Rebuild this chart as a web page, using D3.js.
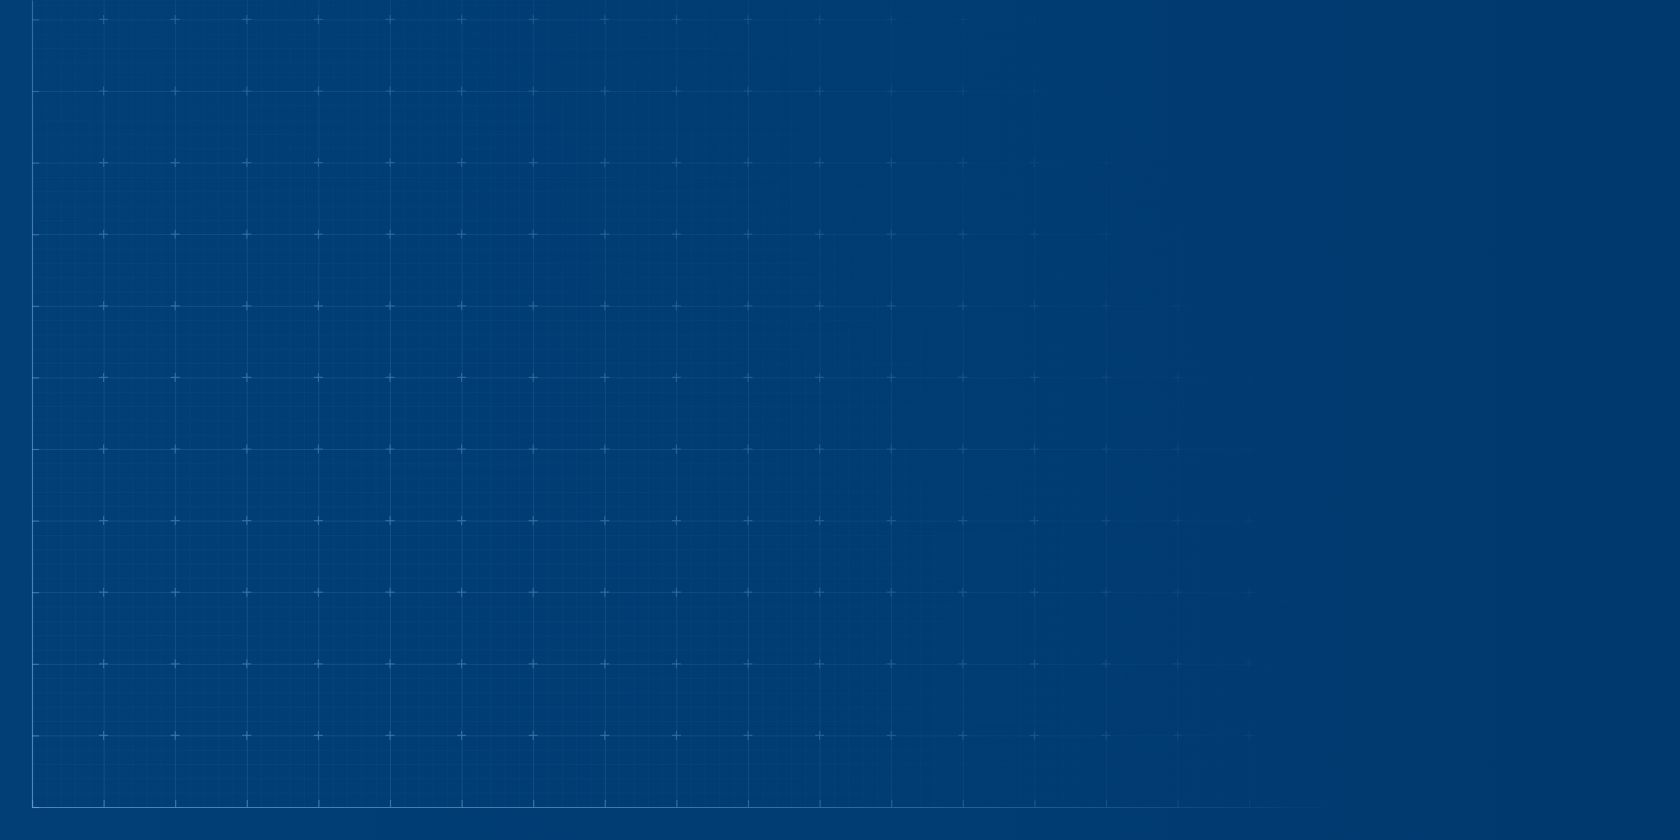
<!DOCTYPE html>
<html>
<head>
<meta charset="utf-8">
<script src="https://cdn.jsdelivr.net/npm/d3@7"></script>
<style>
  body { margin: 0; background: #003c72; }
  svg { display: block; }
</style>
</head>
<body>
<div class="vis-grid"></div>
<script>
// tick values for the (empty) blueprint chart
var xTicks = [0, 1, 2, 3, 4, 5, 6, 7, 8, 9, 10, 11, 12, 13, 14, 15, 16, 17, 18, 19, 20, 21, 22];
var yTicks = [0, 1, 2, 3, 4, 5, 6, 7, 8, 9, 10, 11];
var minorPerMajor = 5;

var margin = {top: 0, right: 0, bottom: 33, left: 32},
    W = 1680, H = 840,
    width = W - margin.left - margin.right,
    height = H - margin.top - margin.bottom;

var svg = d3.select(".vis-grid")
  .append("svg")
    .attr("width", W)
    .attr("height", H);

var defs = svg.append("defs");

// background goes a touch darker to the right
var bg = defs.append("linearGradient").attr("id", "bg")
  .attr("x1", 0).attr("y1", 0).attr("x2", 1).attr("y2", 0);
bg.append("stop").attr("offset", 0).attr("stop-color", "#013f76");
bg.append("stop").attr("offset", 1).attr("stop-color", "#00396e");

// grid fades out away from the bottom-left corner
var fade = defs.append("radialGradient").attr("id", "fadeGrad")
  .attr("gradientUnits", "userSpaceOnUse")
  .attr("cx", margin.left).attr("cy", H - margin.bottom)
  .attr("r", 1400);
fade.append("stop").attr("offset", 0).attr("stop-color", "#fff");
fade.append("stop").attr("offset", 0.4).attr("stop-color", "#e0e0e0");
fade.append("stop").attr("offset", 0.72).attr("stop-color", "#707070");
fade.append("stop").attr("offset", 0.94).attr("stop-color", "#000");
defs.append("mask").attr("id", "fade")
  .attr("maskUnits", "userSpaceOnUse")
  .attr("x", 0).attr("y", 0).attr("width", W).attr("height", H)
  .append("rect").attr("width", W).attr("height", H).attr("fill", "url(#fadeGrad)");

svg.append("rect").attr("width", W).attr("height", H).attr("fill", "url(#bg)");

var g = svg.append("g")
  .attr("mask", "url(#fade)")
  .append("g")
  .attr("transform", "translate(" + margin.left + "," + margin.top + ")");

var step = 71.6;
var x = d3.scaleLinear()
  .domain([0, width / step])
  .range([0, width]);
var y = d3.scaleLinear()
  .domain([0, height / step])
  .range([height, 0]);
var xMax = width / step, yMax = height / step;

// minor grid
g.append("g")
  .attr("class", "minor-x")
  .attr("transform", "translate(0," + height + ")")
  .call(d3.axisBottom(x).tickValues(d3.range(0, xMax, 1 / minorPerMajor)).tickSize(-height).tickFormat(""))
  .call(function(s) { s.select(".domain").remove(); })
  .selectAll("line").attr("stroke", "#5f93c8").attr("stroke-opacity", 0.07);
g.append("g")
  .attr("class", "minor-y")
  .call(d3.axisLeft(y).tickValues(d3.range(0, yMax, 1 / minorPerMajor)).tickSize(-width).tickFormat(""))
  .call(function(s) { s.select(".domain").remove(); })
  .selectAll("line").attr("stroke", "#5f93c8").attr("stroke-opacity", 0.07);

// major grid
g.append("g")
  .attr("class", "major-x")
  .attr("transform", "translate(0," + height + ")")
  .call(d3.axisBottom(x).tickValues(xTicks).tickSize(-height).tickFormat(""))
  .call(function(s) { s.select(".domain").remove(); })
  .selectAll("line").attr("stroke", "#6fa2d4").attr("stroke-opacity", 0.15);
g.append("g")
  .attr("class", "major-y")
  .call(d3.axisLeft(y).tickValues(yTicks).tickSize(-width).tickFormat(""))
  .call(function(s) { s.select(".domain").remove(); })
  .selectAll("line").attr("stroke", "#6fa2d4").attr("stroke-opacity", 0.15);

// crosses at major intersections
var pts = [];
xTicks.forEach(function(a) { yTicks.forEach(function(b) { pts.push([a, b]); }); });
g.append("g").attr("class", "crosses")
  .selectAll("path")
  .data(pts.filter(function(d) { return d[0] > 0 && d[1] > 0; }))
  .enter()
  .append("path")
    .attr("d", function(d) {
      var cx = x(d[0]), cy = y(d[1]);
      return "M" + (cx - 4.5) + "," + cy + "H" + (cx + 4.5) + "M" + cx + "," + (cy - 4.5) + "V" + (cy + 4.5);
    })
    .attr("stroke", "#86b6e2")
    .attr("stroke-opacity", 0.38)
    .attr("stroke-width", 1.2);

// axes with inward ticks, no labels
var ax = g.append("g").attr("class", "axis-x")
  .attr("transform", "translate(0," + height + ")")
  .call(d3.axisTop(x).tickValues(xTicks).tickSize(7).tickSizeOuter(0).tickFormat(""));
var ay = g.append("g").attr("class", "axis-y")
  .call(d3.axisRight(y).tickValues(yTicks).tickSize(7).tickSizeOuter(0).tickFormat(""));
[ax, ay].forEach(function(a) {
  a.select(".domain").attr("stroke", "#7eaedc").attr("stroke-opacity", 0.55).attr("stroke-width", 1.2);
  a.selectAll(".tick line").attr("stroke", "#86b6e2").attr("stroke-opacity", 0.42).attr("stroke-width", 1.2);
});
</script>
</body>
</html>
